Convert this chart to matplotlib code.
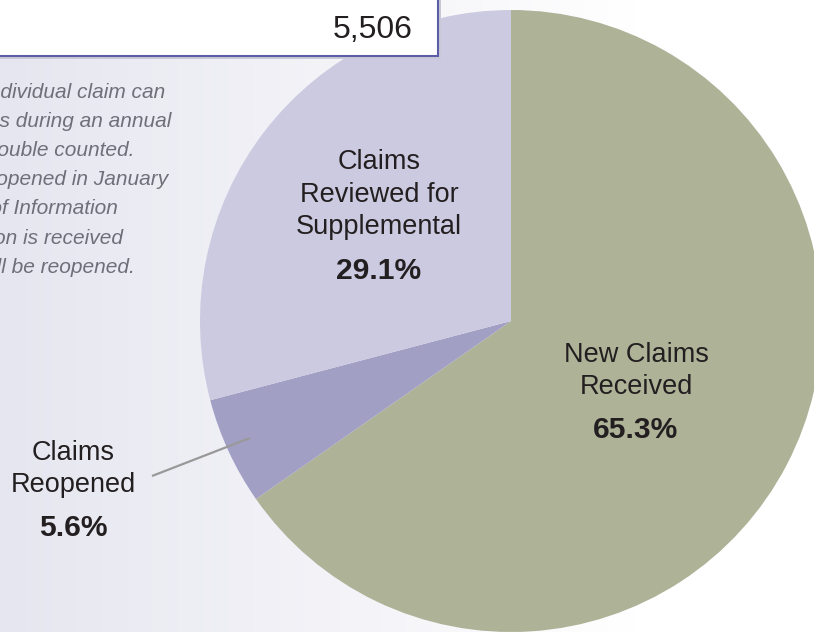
import matplotlib
matplotlib.use('Agg')
import matplotlib.pyplot as plt
from matplotlib import font_manager
from matplotlib.patches import Rectangle
import numpy as np

# ── Data ──────────────────────────────────────────────────────────────────────
categories = ["New Claims\nReceived", "Claims\nReopened", "Claims\nReviewed for\nSupplemental"]
shares = [65.3, 5.6, 29.1]
slice_colors = ["#aeb398", "#a29fc5", "#cccae0"]
total_claims = "5,506"
note_lines = [
    "Note: An individual claim can",
    "have multiple actions during an annual",
    "period and may be double counted.",
    "Claims reopened in January",
    "include Freedom of Information",
    "requests. If information is received",
    "later, a claim will be reopened.",
]

W, H = 814, 632


def have_font(name):
    try:
        font_manager.findfont(name, fallback_to_default=False)
        return True
    except Exception:
        return False


NARROW = have_font("Liberation Sans Narrow")
REG = "Liberation Sans Narrow" if NARROW else "Liberation Sans"
lab_size = 21.6 if NARROW else 19.5
note_size = 18.7 if NARROW else 15.0

fig = plt.figure(figsize=(W / 100, H / 100), dpi=100)
ax = fig.add_axes([0, 0, 1, 1])

# background: lavender on the left fading to white
xs = np.linspace(0, 1, W)
fade = np.clip(xs / 0.78, 0, 1)
left = np.array([230, 230, 240]) / 255
right = np.array([1.0, 1.0, 1.0])
row = left[None, :] * (1 - fade[:, None]) + right[None, :] * fade[:, None]
grad = np.repeat(row[None, :, :], 2, axis=0)
ax.imshow(grad, extent=[0, W, 0, H], aspect='auto', zorder=0)

# pie
cx, cy, r = 511, H - 321, 311
ax.pie(shares, colors=slice_colors, startangle=90, counterclock=False,
       center=(cx, cy), radius=r, wedgeprops=dict(linewidth=0),
       frame=True)

ax.set_xlim(0, W)
ax.set_ylim(0, H)
ax.set_aspect('auto')
ax.axis('off')

# total box at top-left
ax.add_patch(Rectangle((-10, H - 59), 451, 80, facecolor='#c9c9d6',
                       edgecolor='none', zorder=4))
ax.add_patch(Rectangle((-10, H - 56), 448, 80, facecolor='white',
                       edgecolor='#5b5da6', linewidth=1.5, zorder=5))
ax.text(413, H - 30, total_claims, ha='right', va='center', fontsize=23,
        family='Liberation Sans', color='#231f20', zorder=6)

# italic note, clipped at the left edge
note_ends = [165, 171, 135, 168, 118, 123, 135]
for i, (line, xe) in enumerate(zip(note_lines, note_ends)):
    ax.text(xe, H - (92 + 29.2 * i), line, ha='right', va='center',
            fontsize=note_size, family=REG, style='italic', color='#6e6f78',
            zorder=3)

# slice labels
label_pos = [(636, 355, 430), (73, 453, 528), (379, 162, 271)]
line_gap = 32.5
for cat, val, (lx, ly, py) in zip(categories, shares, label_pos):
    for j, part in enumerate(cat.split("\n")):
        ax.text(lx, H - (ly + line_gap * j), part, ha='center', va='center',
                fontsize=lab_size, family=REG, color='#231f20', zorder=6)
    ax.text(lx, H - py, f"{val:.1f}%", ha='center', va='center',
            fontsize=21.6, family='Liberation Sans', fontweight='bold',
            color='#231f20', zorder=6)

# leader line for the small slice
ax.plot([152, 250], [H - 476, H - 438], color='#999999', linewidth=1.6,
        solid_capstyle='butt', zorder=6)

fig.savefig("out.png", dpi=100)
